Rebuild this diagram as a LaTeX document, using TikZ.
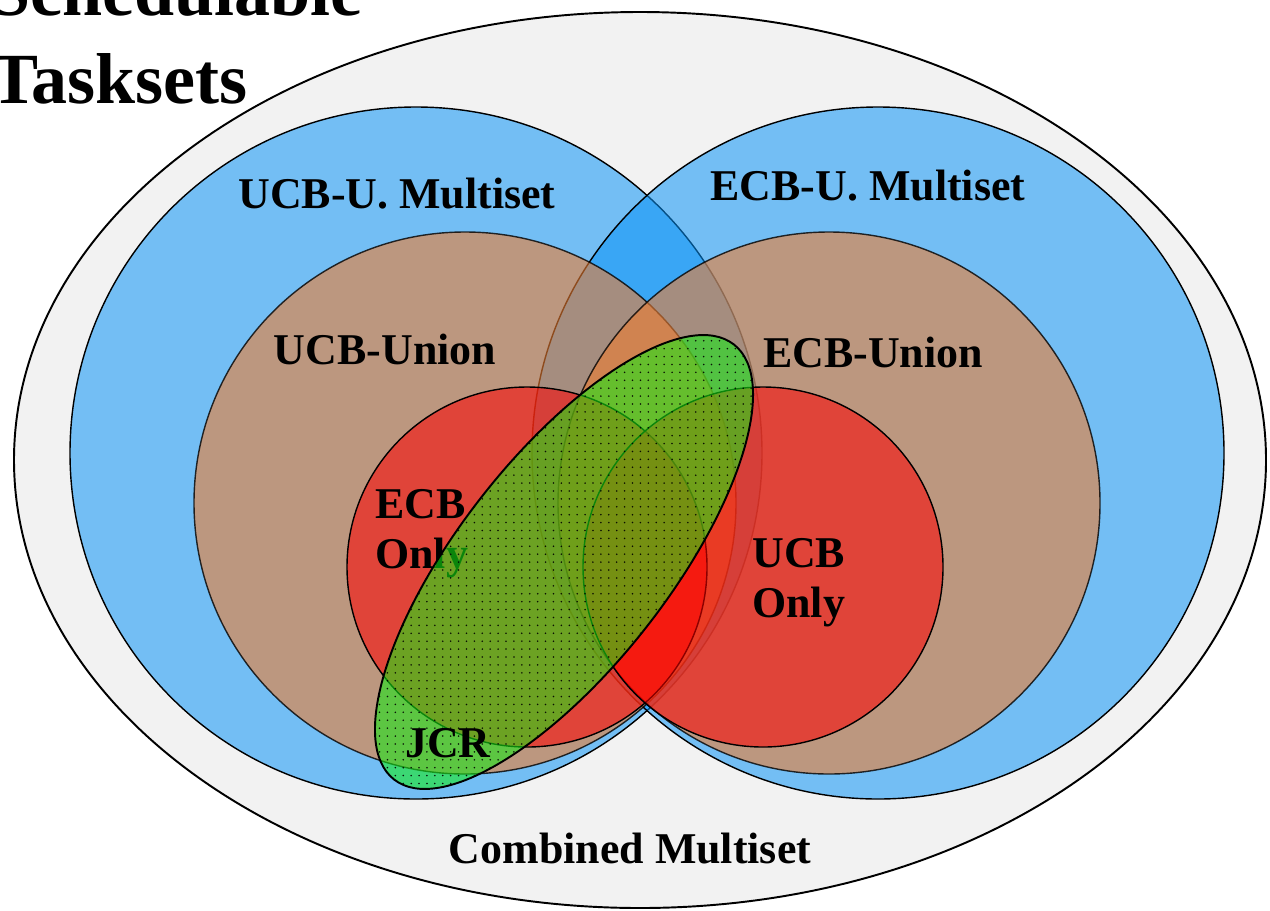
\documentclass[tikz,border=0pt]{standalone}
\usepackage{fontspec}
\setmainfont{Liberation Serif}
\usetikzlibrary{patterns.meta}

\definecolor{outergray}{RGB}{242,242,242}
\definecolor{setblue}{RGB}{9,147,247}
\definecolor{setbrown}{RGB}{237,125,49}
\definecolor{setred}{RGB}{255,0,0}
\definecolor{setgreen}{RGB}{20,235,20}

\begin{document}
\begin{tikzpicture}[
    x=0.02cm, y=-0.02cm,
    setline/.style={draw=black, line width=0.8pt},
    combinedset/.style={draw=black, line width=1.1pt, fill=outergray},
    multiset/.style={setline, fill=setblue, fill opacity=0.54},
    unionset/.style={setline, fill=setbrown, fill opacity=0.6, draw opacity=0.8},
    onlyset/.style={setline, fill=setred, fill opacity=0.55},
    jcrset/.style={draw=black, line width=1.1pt, fill=setgreen, fill opacity=0.57,
        postaction={pattern={Dots[distance=4.5pt, radius=0.5pt]}, pattern color=black, fill opacity=0.9}},
    lbl/.style={font=\fontsize{25}{28.5}\selectfont\bfseries, inner sep=0pt},
    titlelbl/.style={font=\fontsize{41}{50}\selectfont\bfseries, inner sep=0pt, anchor=base west}
]
\useasboundingbox (0,0) rectangle (1270,910);

\filldraw[combinedset] (640,460) ellipse [x radius=626, y radius=448];

\filldraw[multiset] (416,453) circle [radius=346];
\filldraw[multiset] (878,453) circle [radius=346];

\filldraw[unionset] (465,503) circle [radius=271];
\filldraw[unionset] (829,503) circle [radius=271];

\filldraw[onlyset] (527,567) circle [radius=180];
\filldraw[onlyset] (763,567) circle [radius=180];

\node[lbl, anchor=north west, align=left] (ecbonly) at (375,489) {ECB\\Only};

\filldraw[jcrset, rotate around={52:(564,562)}] (564,562) ellipse [x radius=276, y radius=105];

\node[lbl, anchor=north west, align=left] (ucbonly) at (752,538) {UCB\\Only};
\node[lbl, anchor=base] (ucbmulti) at (397,208) {UCB-U. Multiset};
\node[lbl, anchor=base] (ecbmulti) at (868,200) {ECB-U. Multiset};
\node[lbl, anchor=base] (ucbunion) at (385,364) {UCB-Union};
\node[lbl, anchor=base] (ecbunion) at (873,367) {ECB-Union};
\node[lbl, anchor=base] (jcr) at (448,757) {JCR};
\node[lbl, anchor=base] (combined) at (630,863) {Combined Multiset};

\node[titlelbl] (title1) at (-10,15) {Schedulable};
\node[titlelbl] (title2) at (-10,103) {Tasksets};
\end{tikzpicture}
\end{document}
